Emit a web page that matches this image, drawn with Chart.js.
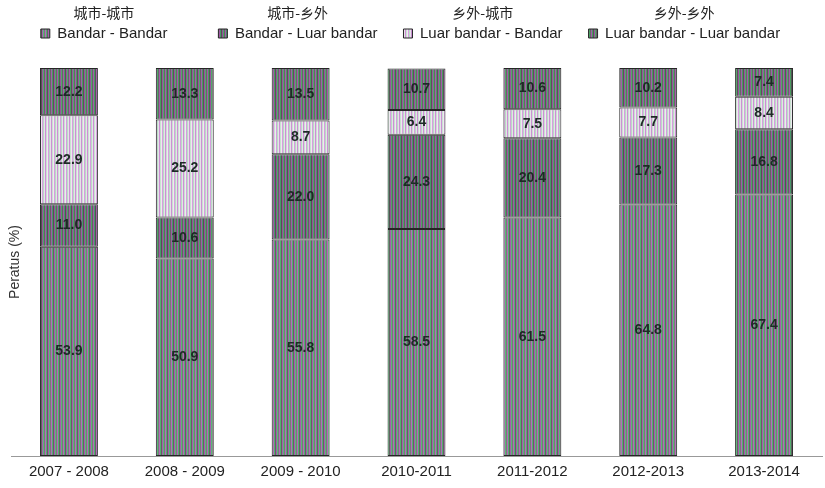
<!DOCTYPE html>
<html>
<head>
<meta charset="utf-8">
<script src="https://cdn.jsdelivr.net/npm/chart.js@4/dist/chart.umd.min.js"></script>
<style>
  html, body { margin: 0; padding: 0; background: #fff; }
  #wrap { width: 825px; height: 488px; }
</style>
</head>
<body>
<div id="wrap"><canvas id="migrationChart"></canvas></div>
<script>
// data
const categories = ['2007 - 2008', '2008 - 2009', '2009 - 2010', '2010-2011', '2011-2012', '2012-2013', '2013-2014'];
const seriesNames = ['Bandar - Bandar', 'Bandar - Luar bandar', 'Luar bandar - Bandar', 'Luar bandar - Luar bandar'];
const seriesNamesZh = ['城市-城市', '城市-乡外', '乡外-城市', '乡外-乡外'];
const bandarBandar = [53.9, 50.9, 55.8, 58.5, 61.5, 64.8, 67.4];
const bandarLuar = [11.0, 10.6, 22.0, 24.3, 20.4, 17.3, 16.8];
const luarBandar = [22.9, 25.2, 8.7, 6.4, 7.5, 7.7, 8.4];
const luarLuar = [12.2, 13.3, 13.5, 10.7, 10.6, 10.2, 7.4];
const yTitle = 'Peratus (%)';

const FONT = '"Liberation Sans", sans-serif';
const LEGEND_SHIFT = -6;

// striped fills, like the scanned original
function stripes(cols) {
    const c = document.createElement('canvas');
    c.width = cols.length;
    c.height = 1;
    const g = c.getContext('2d');
    cols.forEach((col, i) => { g.fillStyle = col; g.fillRect(i, 0, 1, 1); });
    return g.createPattern(c, 'repeat');
}
const fills = [
    stripes(['#a85cb0', '#5ab876', '#787878', '#b46cba', '#54b070', '#626262']),
    stripes(['#96509c', '#4ea466', '#626262', '#a05aa6', '#48986a', '#525252']),
    stripes(['#d69ede', '#b8dcc4', '#e6e2e8', '#cc90d4', '#c8e2d0', '#eeeaf0']),
    stripes(['#9a52a0', '#52a86a', '#666666', '#a45caa', '#4a9c60', '#565656'])
];

const values = [bandarBandar, bandarLuar, luarBandar, luarLuar];

const extrasPlugin = {
    id: 'extras',
    beforeInit(chart) {
        const fit = chart.legend.fit;
        chart.legend.fit = function () {
            fit.bind(chart.legend)();
            this.height += 17;
        };
    },
    afterUpdate(chart) {
        // legend in the original sits a bit left of the plot centre
        const lg = chart.legend;
        lg.left += LEGEND_SHIFT;
        lg.right += LEGEND_SHIFT;
        lg.legendHitBoxes.forEach(b => { b.left += LEGEND_SHIFT; });
    },
    afterDatasetsDraw(chart) {
        const ctx = chart.ctx;
        ctx.save();
        ctx.font = 'bold 14px ' + FONT;
        ctx.fillStyle = '#1e2a26';
        ctx.textAlign = 'center';
        ctx.textBaseline = 'middle';
        chart.data.datasets.forEach((ds, i) => {
            chart.getDatasetMeta(i).data.forEach((bar, j) => {
                const mid = (bar.y + bar.base) / 2;
                ctx.fillText(ds.data[j].toFixed(1), bar.x, mid);
            });
        });
        ctx.restore();
    },
    afterDraw(chart) {
        const ctx = chart.ctx;
        ctx.save();
        // chinese names above the legend entries
        ctx.font = '15px ' + FONT;
        const widths = seriesNames.map(n => ctx.measureText(n).width);
        ctx.font = '14px "Noto Sans CJK SC", sans-serif';
        ctx.fillStyle = '#222';
        ctx.textAlign = 'center';
        ctx.textBaseline = 'middle';
        chart.legend.legendHitBoxes.forEach((box, i) => {
            ctx.fillText(seriesNamesZh[i], box.left + (16 + widths[i]) / 2, box.top - 13);
        });
        // y axis title
        const a = chart.chartArea;
        ctx.translate(15, (a.top + a.bottom) / 2);
        ctx.rotate(-Math.PI / 2);
        ctx.font = '14px ' + FONT;
        ctx.fillStyle = '#333';
        ctx.fillText(yTitle, 0, 0);
        ctx.restore();
    }
};

new Chart(document.getElementById('migrationChart'), {
    type: 'bar',
    data: {
        labels: categories,
        datasets: seriesNames.map((name, i) => ({
            // first entry sits further from the next one in the original
            label: i === 0 ? name + '      ' : name,
            data: values[i],
            backgroundColor: fills[i],
            borderColor: '#262626',
            borderWidth: 1,
            borderSkipped: false,
            barPercentage: 1,
            categoryPercentage: 0.5
        }))
    },
    options: {
        responsive: true,
        maintainAspectRatio: false,
        animation: false,
        layout: { padding: { left: 11, right: 3, top: 0, bottom: 0 } },
        plugins: {
            legend: {
                position: 'top',
                labels: {
                    boxWidth: 9,
                    boxHeight: 9,
                    padding: 26,
                    color: '#222',
                    font: { family: FONT, size: 15 }
                }
            },
            tooltip: { enabled: false }
        },
        scales: {
            x: {
                stacked: true,
                grid: { display: false, drawTicks: false },
                border: { display: true, color: '#999', dash: [2, 2] },
                ticks: { color: '#222', padding: 7, font: { family: FONT, size: 15 } }
            },
            y: {
                stacked: true,
                display: false,
                min: 0,
                max: 100
            }
        }
    },
    plugins: [extrasPlugin]
});
</script>
</body>
</html>
